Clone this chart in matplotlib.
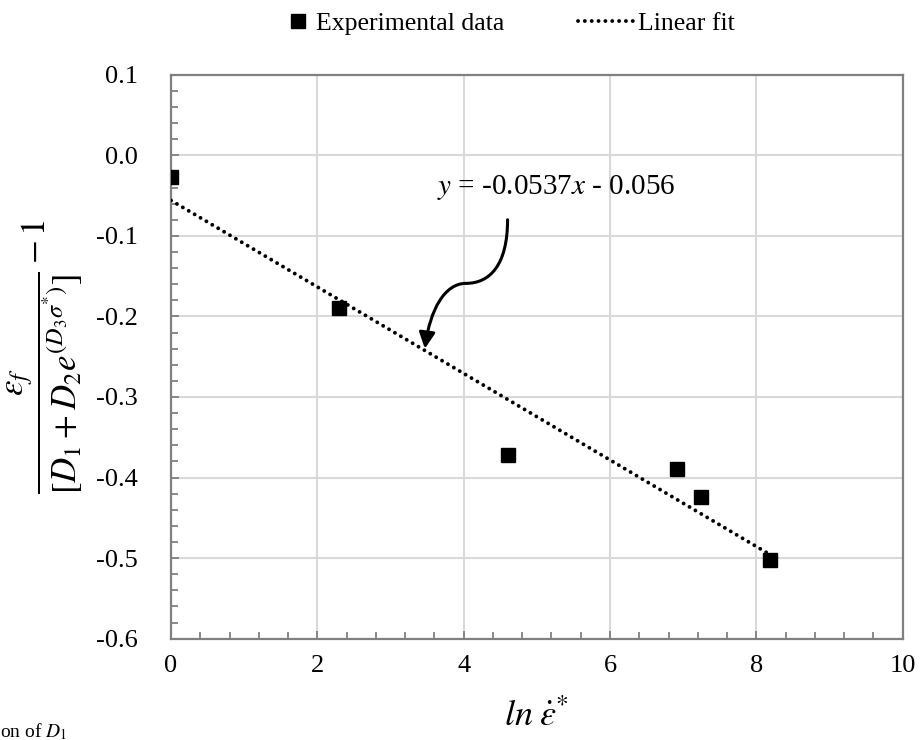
import numpy as np
import matplotlib
matplotlib.use("Agg")
import matplotlib.pyplot as plt
from matplotlib.path import Path
from matplotlib.patches import FancyArrowPatch
from matplotlib.ticker import MultipleLocator

plt.rcParams["font.family"] = ["Liberation Serif", "DejaVu Serif"]
plt.rcParams["mathtext.fontset"] = "stix"
plt.rcParams["axes.unicode_minus"] = False

# =========================
# Data
# =========================

ln_strain_rate = [0.0, 2.30, 4.61, 6.91, 7.24, 8.19]
y_values = [-0.027, -0.189, -0.372, -0.390, -0.424, -0.503]

fit_slope = -0.0537
fit_intercept = -0.056

x_ticks = [0, 2, 4, 6, 8, 10]
y_ticks = [-0.6, -0.5, -0.4, -0.3, -0.2, -0.1, 0.0, 0.1]

fit_x = np.array([min(ln_strain_rate), max(ln_strain_rate)])
fit_y = fit_slope * fit_x + fit_intercept

# =========================
# Figure
# =========================

fig = plt.figure(figsize=(9.22, 7.4), dpi=100)
ax = fig.add_axes([0.1855, 0.137, 0.7935, 0.762])

grid_col = "#d9d9d9"
spine_col = "#808080"

fit_line, = ax.plot(fit_x, fit_y, color="black", lw=2.8,
                    linestyle=(0, (0.01, 1.75)), dash_capstyle="round",
                    label="Linear fit", zorder=3)
data_pts, = ax.plot(ln_strain_rate, y_values, "s", color="black", ms=10,
                    label="Experimental data", zorder=4)

ax.set_xlim(0, 10)
ax.set_ylim(-0.6, 0.1)
ax.set_xticks(x_ticks)
ax.set_yticks(y_ticks)
ax.set_yticklabels([f"{v:.1f}" for v in y_ticks])
ax.xaxis.set_minor_locator(MultipleLocator(0.4))
ax.yaxis.set_minor_locator(MultipleLocator(0.02))

ax.grid(True, which="major", color=grid_col, lw=1.5, zorder=0)
ax.set_axisbelow(True)
for s in ax.spines.values():
    s.set_color(spine_col)
    s.set_linewidth(1.6)

ax.tick_params(which="both", direction="in", color=spine_col, width=1.3,
               labelsize=19, top=False, right=False)
ax.tick_params(which="major", length=6)
ax.tick_params(which="minor", length=5)
ax.tick_params(axis="y", pad=24)
ax.tick_params(axis="x", pad=12)

ax.set_xlabel(r"$ln\;\dot{\varepsilon}^{*}$", fontsize=26, labelpad=16)
ax.set_ylabel(r"$\dfrac{\varepsilon_f}{[D_1 + D_2 e^{(D_3\sigma^{*})}]} - 1$",
              fontsize=25, labelpad=8)

# equation annotation with curly arrow
ax.text(5.26, -0.040, r"$y$ = -0.0537$x$ - 0.056", fontsize=21,
        ha="center", va="center")
verts = [(4.60, -0.080), (4.60, -0.136), (4.36, -0.159), (4.03, -0.159),
         (3.74, -0.159), (3.54, -0.192), (3.47, -0.240)]
codes = [Path.MOVETO] + [Path.CURVE4] * 6
arrow = FancyArrowPatch(path=Path(verts, codes), arrowstyle="-|>",
                        mutation_scale=24, color="black", lw=2.2, zorder=5)
ax.add_patch(arrow)

# legend in two parts so the marker sits close to its text
leg1 = fig.legend([data_pts], [data_pts.get_label()], loc="center left",
                  bbox_to_anchor=(0.315, 0.968), frameon=False, fontsize=18.5,
                  handlelength=0.6, handletextpad=0.4, borderpad=0,
                  borderaxespad=0)
leg2 = fig.legend([fit_line], [fit_line.get_label()], loc="center left",
                  bbox_to_anchor=(0.627, 0.968), frameon=False, fontsize=18.5,
                  handlelength=2.3, handletextpad=0.05, borderpad=0,
                  borderaxespad=0)

fig.text(0.0, 0.004, r"on of $D_1$", fontsize=14, ha="left", va="baseline")

fig.savefig("out.png", dpi=100)
